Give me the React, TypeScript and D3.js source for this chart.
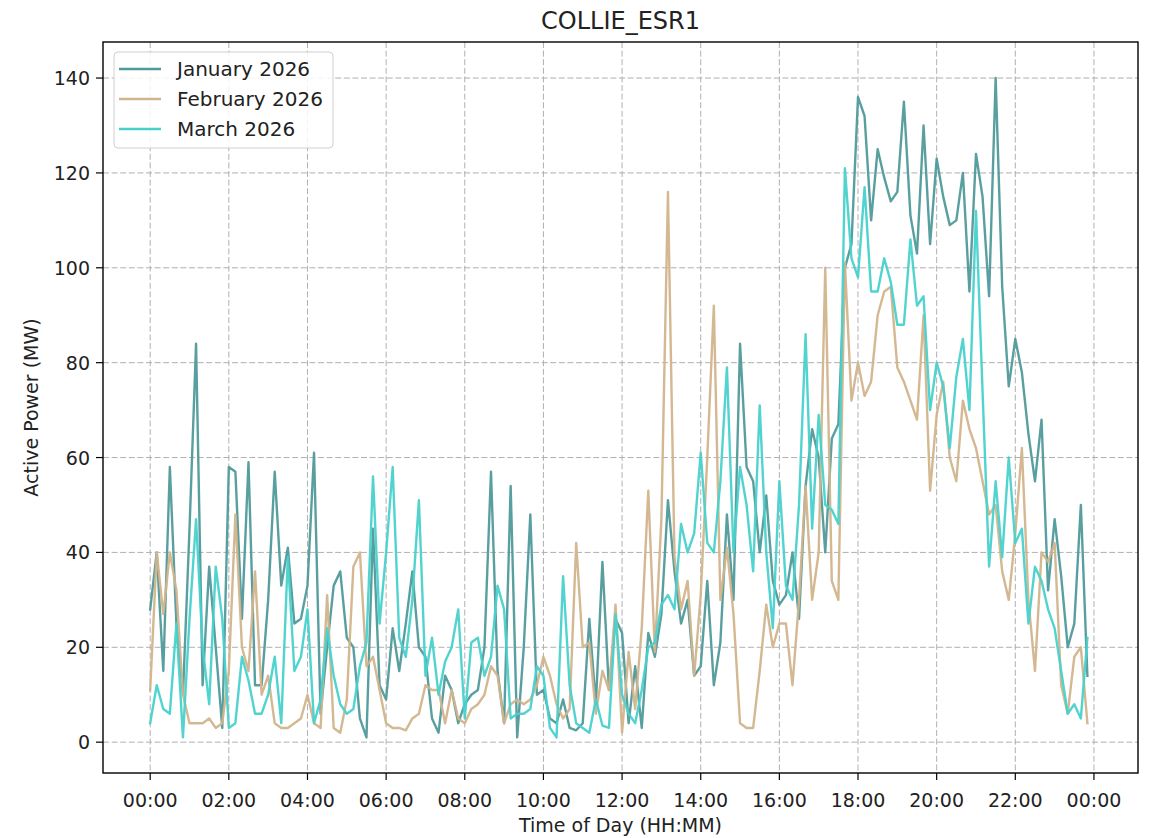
import React from 'react';
import * as d3 from 'd3';

const W = 1153;
const H = 838;
const STEP_MIN = 10;

const january = [
  28, 40, 15, 58, 25, 10, 45, 84, 12, 37, 20, 3, 58, 57, 26, 59, 12, 12,
  30, 57, 33, 41, 25, 26, 33, 61, 6, 20, 33, 36, 22, 20, 5, 1, 45, 12,
  9, 24, 15, 25, 36, 20, 18, 5, 2, 14, 11, 4, 8, 10, 11, 20, 57,
  15, 4, 54, 1, 20, 48, 10, 11, 5, 4, 9, 3, 2.5, 4, 26, 8, 38, 11,
  26, 23, 4, 16, 3, 23, 18, 27, 51, 36, 25, 30, 14, 16, 34, 12, 21,
  48, 30, 84, 58, 55, 40, 52, 34, 29, 31, 40, 26, 54, 66, 60, 40, 64, 67,
  100, 105, 136, 132, 110, 125, 119, 114, 116, 135, 111, 103, 130, 105, 123, 115, 109, 110,
  120, 95, 124, 115, 94, 140, 96, 75, 85, 78, 65, 55, 68, 32, 47, 35, 20, 25, 50, 14,
];

const february = [
  11, 40, 27, 40, 32, 10, 4, 4, 4, 5, 3, 4, 15, 48, 20, 15, 36, 10,
  14, 4, 3, 3, 4, 5, 10, 4, 3, 31, 3, 2, 9, 37, 40, 16, 18, 11,
  4, 3, 3, 2.5, 5, 6, 12, 11, 11, 4, 11, 5, 4, 7, 8, 10, 16,
  14, 4, 8, 9, 8, 9, 12, 18, 14, 8, 5, 7, 42, 20, 21, 6, 15, 11,
  29, 2, 19, 7, 24, 53, 19, 47, 116, 39, 28, 34, 14, 31, 60, 92, 30,
  41, 27, 4, 3, 3, 15, 29, 20, 25, 25, 12, 30, 54, 30, 40, 100, 34, 30,
  101, 72, 80, 73, 76, 90, 95, 96, 79, 76, 72, 68, 90, 53, 69, 76, 60, 55,
  72, 66, 62, 55, 48, 50, 36, 30, 44, 62, 30, 15, 40, 38, 42, 12, 6, 18, 20, 4,
];

const march = [
  4, 12, 7, 6, 25, 1, 26, 47, 20, 8, 37, 26, 3, 4, 18, 13, 6, 6,
  10, 18, 4, 39, 15, 18, 28, 4, 9, 24, 14, 8, 6, 7, 16, 21, 56, 25,
  40, 58, 22, 18, 30, 51, 14, 22, 10, 17, 20, 28, 5, 21, 22, 14, 18,
  33, 28, 5, 6, 6, 7, 16, 14, 3, 1, 35, 12, 4, 3, 2, 9, 3.5, 3,
  27, 10, 6, 4, 11, 20, 21, 29, 31, 28, 46, 40, 44, 61, 42, 40, 55,
  79, 40, 58, 50, 36, 71, 40, 24, 55, 33, 30, 50, 86, 45, 69, 50, 49, 46,
  121, 102, 98, 117, 95, 95, 102, 97, 88, 88, 106, 92, 94, 70, 80, 75, 62, 77,
  85, 70, 112, 74, 37, 55, 39, 60, 42, 45, 25, 37, 34, 28, 24, 15, 6, 8, 5, 22,
];

const seriesNames = ['January 2026', 'February 2026', 'March 2026'];
const seriesColors = ['#509a9b', '#d2b48c', '#48d1cc'];
const yTicks = [0, 20, 40, 60, 80, 100, 120, 140];
const xTickHours = [0, 2, 4, 6, 8, 10, 12, 14, 16, 18, 20, 22, 24];

const FONT = '"DejaVu Sans", Verdana, sans-serif';

function fmtHour(h: number) {
  const hh = h % 24;
  return `${String(hh).padStart(2, '0')}:00`;
}

export default function App() {
  const L = 103, R = 1138, T = 42, B = 773;
  const x = d3.scaleLinear().domain([-1.2, 25.12]).range([L, R]);
  const y = d3.scaleLinear().domain([-6.5, 147.6]).range([B, T]);
  const line = d3
    .line<number>()
    .x((_, i) => x((i * STEP_MIN) / 60))
    .y((d) => y(d));
  const series = [january, february, march];

  return (
    <svg
      width={W}
      height={H}
      style={{ position: 'absolute', left: 0, top: 0, background: '#fff' }}
      fontFamily={FONT}
    >
      <defs>
        <clipPath id="plotclip">
          <rect x={L} y={T} width={R - L} height={B - T} />
        </clipPath>
      </defs>
      <rect x={0} y={0} width={W} height={H} fill="#fff" />
      <g stroke="#b0b0b0" strokeWidth={1} strokeDasharray="6,2.6">
        {xTickHours.map((h) => (
          <line key={'gx' + h} x1={x(h)} x2={x(h)} y1={T} y2={B} />
        ))}
        {yTicks.map((v) => (
          <line key={'gy' + v} x1={L} x2={R} y1={y(v)} y2={y(v)} />
        ))}
      </g>
      <g clipPath="url(#plotclip)" fill="none" strokeLinejoin="round" strokeLinecap="square">
        {series.map((s, k) => (
          <path
            key={k}
            d={line(s) || ''}
            stroke={seriesColors[k]}
            strokeWidth={2.4}
            opacity={0.95}
          />
        ))}
      </g>
      <rect x={L} y={T} width={R - L} height={B - T} fill="none" stroke="#000" strokeWidth={1.4} />
      <g fontSize={19} textAnchor="middle" fill="#222">
        {xTickHours.map((h) => (
          <g key={'xt' + h}>
            <line x1={x(h)} x2={x(h)} y1={B} y2={B + 7} stroke="#000" strokeWidth={1.2} />
            <text x={x(h)} y={B + 34}>{fmtHour(h)}</text>
          </g>
        ))}
      </g>
      <g fontSize={19} textAnchor="end" fill="#222">
        {yTicks.map((v) => (
          <g key={'yt' + v}>
            <line x1={L - 7} x2={L} y1={y(v)} y2={y(v)} stroke="#000" strokeWidth={1.2} />
            <text x={L - 13} y={y(v) + 7}>{v}</text>
          </g>
        ))}
      </g>
      <text x={(L + R) / 2} y={832} fontSize={19} textAnchor="middle" fill="#222">
        Time of Day (HH:MM)
      </text>
      <text
        transform={`translate(38, ${(T + B) / 2}) rotate(-90)`}
        fontSize={19}
        textAnchor="middle"
        fill="#222"
      >
        Active Power (MW)
      </text>
      <text x={(L + R) / 2} y={29} fontSize={24} textAnchor="middle" fill="#222">
        COLLIE_ESR1
      </text>
      <g>
        <rect x={114} y={52} width={219} height={96} rx={4} fill="#fff" fillOpacity={0.85} stroke="#d0d0d0" strokeWidth={1} />
        {seriesNames.map((n, k) => (
          <g key={n}>
            <line x1={119} x2={161} y1={69 + k * 30} y2={69 + k * 30} stroke={seriesColors[k]} strokeWidth={2.4} />
            <text x={177} y={76 + k * 30} fontSize={20} fill="#222">{n}</text>
          </g>
        ))}
      </g>
    </svg>
  );
}
